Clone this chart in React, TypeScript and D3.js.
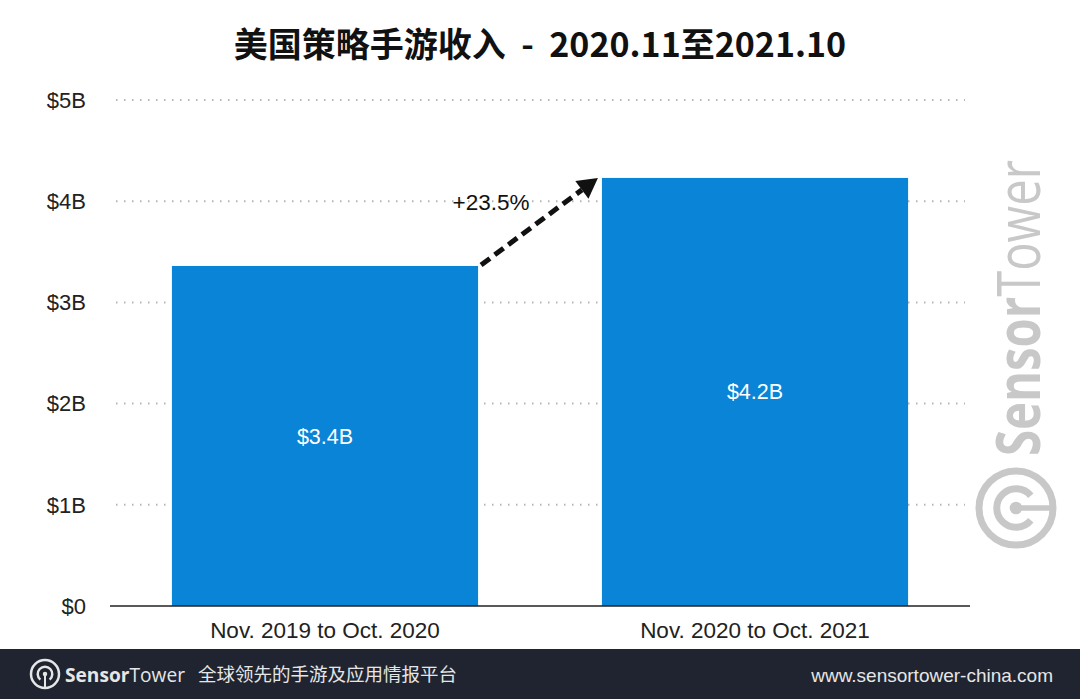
import * as d3 from 'd3'
import { useEffect, useRef } from 'react'

const categories = ['Nov. 2019 to Oct. 2020', 'Nov. 2020 to Oct. 2021']
const revenue = [3.36, 4.23]
const barLabels = ['$3.4B', '$4.2B']
const yTicks = [0, 1, 2, 3, 4, 5]
const growthLabel = '+23.5%'
const title = '美国策略手游收入  -  2020.11至2021.10'

const W = 1080
const H = 699

// draws the SensorTower logo mark centered at 0,0
const drawLogo = (g: any, r: number, color: string, sw: number) => {
  g.append('circle').attr('r', r).attr('fill', 'none').attr('stroke', color).attr('stroke-width', sw)
  const inner = r * 0.52
  const arc = d3.arc()({ innerRadius: inner, outerRadius: inner, startAngle: Math.PI * 1.22, endAngle: Math.PI * 2.78 } as any)
  g.append('path').attr('d', arc).attr('fill', 'none').attr('stroke', color).attr('stroke-width', sw)
  g.append('circle').attr('r', sw * 0.9).attr('fill', color)
  g.append('line').attr('x1', 0).attr('y1', 0).attr('x2', 0).attr('y2', r).attr('stroke', color).attr('stroke-width', sw * 0.8)
}

const App = () => {
  const ref = useRef<SVGSVGElement>(null)
  useEffect(() => {
    document.body.style.margin = '0'
    const svg = d3.select(ref.current)
    svg.selectAll('*').remove()
    const font = 'Helvetica, Arial, "Liberation Sans", sans-serif'
    const cjk = '"Noto Sans CJK SC", sans-serif'

    svg.append('rect').attr('width', W).attr('height', H).attr('fill', '#fff')

    // watermark
    const wm = svg.append('g').attr('transform', 'translate(1016,508)')
    drawLogo(wm.append('g').attr('transform', 'rotate(-90)'), 37, '#c8c8c8', 7)
    const wt = wm.append('text').attr('transform', 'translate(24,-52) rotate(-90)')
      .attr('font-family', '"Open Sans", sans-serif').attr('font-size', 60).attr('fill', '#c8c8c8')
      .attr('textLength', 296).attr('lengthAdjust', 'spacingAndGlyphs')
    wt.append('tspan').attr('font-weight', 700).text('Sensor')
    wt.append('tspan').attr('font-weight', 400).text('Tower')

    const x = d3.scaleBand().domain(categories).range([110, 970]).paddingInner(0.288).paddingOuter(0.144)
    const y = d3.scaleLinear().domain([0, 5]).range([606, 100])

    // grid
    svg.append('g').selectAll('line').data(yTicks.filter(d => d > 0)).enter().append('line')
      .attr('x1', 116).attr('x2', 965).attr('y1', d => y(d)).attr('y2', d => y(d))
      .attr('stroke', '#b5b5b5').attr('stroke-width', 2).attr('stroke-dasharray', '1.5 6.5')

    // y axis labels
    svg.append('g').selectAll('text').data(yTicks).enter().append('text')
      .attr('x', 86).attr('y', d => y(d)).attr('dy', '0.35em').attr('text-anchor', 'end')
      .attr('font-family', font).attr('font-size', 22).attr('fill', '#222')
      .text(d => `$${d}${d === 0 ? '' : 'B'}`)

    // bars
    svg.append('g').selectAll('rect').data(revenue).enter().append('rect')
      .attr('x', (d, i) => x(categories[i]) as number).attr('width', x.bandwidth())
      .attr('y', d => y(d)).attr('height', d => y(0) - y(d)).attr('fill', '#0a84d6')

    svg.append('g').selectAll('text').data(revenue).enter().append('text')
      .attr('x', (d, i) => (x(categories[i]) as number) + x.bandwidth() / 2)
      .attr('y', d => (y(d) + y(0)) / 2).attr('dy', '0.35em').attr('text-anchor', 'middle')
      .attr('font-family', font).attr('font-size', 21.5).attr('fill', '#fff')
      .text((d, i) => barLabels[i])

    // baseline
    svg.append('line').attr('x1', 110).attr('x2', 970).attr('y1', y(0)).attr('y2', y(0))
      .attr('stroke', '#222').attr('stroke-width', 1.5)

    // x labels
    svg.append('g').selectAll('text').data(categories).enter().append('text')
      .attr('x', d => (x(d) as number) + x.bandwidth() / 2).attr('y', 638).attr('text-anchor', 'middle')
      .attr('font-family', font).attr('font-size', 22.5).attr('fill', '#222').text(d => d)

    // growth arrow
    const x0 = (x(categories[0]) as number) + x.bandwidth() + 3
    const x1 = (x(categories[1]) as number) - 4
    const y0 = y(revenue[0]) - 1
    const y1 = y(revenue[1])
    const ang = Math.atan2(y1 - y0, x1 - x0)
    const headLen = 20
    const hx = x1 - Math.cos(ang) * headLen
    const hy = y1 - Math.sin(ang) * headLen
    svg.append('line').attr('x1', x0).attr('y1', y0).attr('x2', hx).attr('y2', hy)
      .attr('stroke', '#111').attr('stroke-width', 5).attr('stroke-dasharray', '11 6')
    const perp = ang + Math.PI / 2
    const hw = 11
    svg.append('path')
      .attr('d', `M${x1},${y1}L${hx + Math.cos(perp) * hw},${hy + Math.sin(perp) * hw}L${hx - Math.cos(perp) * hw},${hy - Math.sin(perp) * hw}Z`)
      .attr('fill', '#111')
    svg.append('text').attr('x', 491).attr('y', 202).attr('dy', '0.35em').attr('text-anchor', 'middle')
      .attr('font-family', font).attr('font-size', 22.5).attr('fill', '#111').text(growthLabel)

    // title
    svg.append('text').attr('x', 540).attr('y', 45).attr('dy', '0.35em').attr('text-anchor', 'middle')
      .attr('font-family', cjk).attr('font-size', 34).attr('font-weight', 700).attr('fill', '#111')
      .attr('xml:space', 'preserve').style('white-space', 'pre').text(title)

    // footer
    svg.append('rect').attr('x', 0).attr('y', 649).attr('width', W).attr('height', H - 649).attr('fill', '#1f2430')
    drawLogo(svg.append('g').attr('transform', 'translate(45,674)'), 14, '#e6e6e6', 2.5)
    const ft = svg.append('text').attr('x', 65).attr('y', 675).attr('dy', '0.35em')
      .attr('font-family', '"Open Sans", sans-serif').attr('font-size', 20).attr('fill', '#e6e6e6')
      .attr('textLength', 120).attr('lengthAdjust', 'spacingAndGlyphs')
    ft.append('tspan').attr('font-weight', 700).text('Sensor')
    ft.append('tspan').attr('font-weight', 400).text('Tower')
    svg.append('text').attr('x', 198).attr('y', 675).attr('dy', '0.35em')
      .attr('font-family', cjk).attr('font-size', 18.5).attr('fill', '#e6e6e6').text('全球领先的手游及应用情报平台')
    svg.append('text').attr('x', 1053).attr('y', 675).attr('dy', '0.35em').attr('text-anchor', 'end')
      .attr('font-family', font).attr('font-size', 19).attr('fill', '#e6e6e6').text('www.sensortower-china.com')
  }, [])
  return <svg ref={ref} width={W} height={H} style={{ display: 'block' }} />
}

export default App
